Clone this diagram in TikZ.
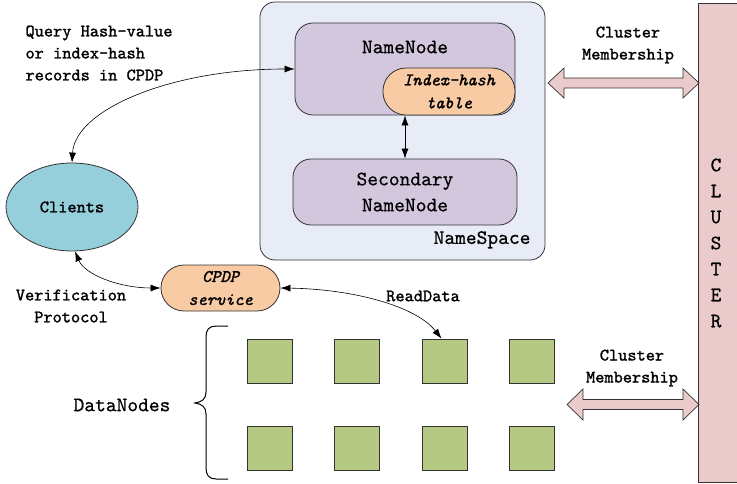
\documentclass[tikz,border=0pt]{standalone}
\usepackage{fontspec}
\newfontfamily\heavytt{lmmono10-regular.otf}[FakeBold=1.4, ItalicFont=lmmono10-italic.otf, ItalicFeatures={FakeBold=1.4}]
\newfontfamily\midtt{lmmono10-regular.otf}[FakeBold=0.6]
\usetikzlibrary{arrows.meta,shapes.geometric}
\definecolor{nsfill}{HTML}{E8ECF7}
\definecolor{nnfill}{HTML}{D3C7DD}
\definecolor{peach}{HTML}{F9CBA4}
\definecolor{clfill}{HTML}{96CFDC}
\definecolor{green}{HTML}{B5C985}
\definecolor{pink}{HTML}{EACACA}
\definecolor{edge}{HTML}{333333}
\tikzset{
  big/.style={font=\fontsize{20.5}{26}\selectfont\midtt},
  small/.style={font=\fontsize{17.5}{22}\selectfont\heavytt},
  ital/.style={font=\fontsize{17.5}{23}\selectfont\heavytt\itshape},
  rbox/.style={draw=edge, line width=0.8pt, rectangle, inner sep=0pt},
  dn/.style={rbox, fill=green, minimum width=45, minimum height=44},
  arr/.style={{Latex[length=10pt,width=7pt]}-{Latex[length=10pt,width=7pt]}, line width=0.6pt, black},
  fat/.style={draw=edge, fill=pink, line width=0.7pt, line join=miter},
}
\begin{document}
\begin{tikzpicture}[x=1pt,y=-1pt]
\useasboundingbox (0,0) rectangle (737,484);
% CLUSTER bar
\begin{scope}
\clip (0,0) rectangle (737,484);
\node[rbox, fill=pink, minimum width=42, minimum height=479, anchor=north west] (cluster) at (698,3) {};
\end{scope}
\node[big, align=center] (clustertext) at (716,243) {C\\L\\U\\S\\T\\E\\R};
% NameSpace
\node[rbox, fill=nsfill, rounded corners=15, minimum width=285, minimum height=258] (ns) at (402.5,131) {};
\node[big, anchor=south east] (nslabel) at (534,252) {NameSpace};
\node[rbox, fill=nnfill, rounded corners=18, minimum width=220, minimum height=92] (nn) at (405,69) {};
\node[big] (nnlabel) at (405,47) {NameNode};
\node[rbox, fill=peach, rounded corners=23, minimum width=132, minimum height=47, ital, align=center] (ih) at (449,91.5) {Index-hash\\table};
\node[rbox, fill=nnfill, rounded corners=18, minimum width=224, minimum height=66, big, align=center] (sn) at (405,192) {Secondary\\NameNode};
\draw[arr] (nn.south) -- (sn.north);
% Clients
\node[ellipse, draw=edge, line width=0.8pt, fill=clfill, minimum width=132, minimum height=88, inner sep=0pt, small] (cl) at (72,207) {Clients};
% CPDP service
\node[rbox, fill=peach, rounded corners=23, minimum width=119, minimum height=46, ital, align=center] (cpdp) at (220.5,288) {CPDP\\service};
% Labels
\node[small, align=left, anchor=north west] (q) at (22,22) {Query Hash-value\\or index-hash\\records in CPDP};
\node[small, align=center] (vp) at (71,306) {Verification\\Protocol};
\node[small] (rd) at (423,296) {ReadData};
% DataNodes
\node[dn] (d11) at (269.5,361) {};
\node[dn] (d12) at (356.5,361) {};
\node[dn] (d13) at (444.5,361) {};
\node[dn] (d14) at (532,361) {};
\node[dn] (d21) at (269.5,448.5) {};
\node[dn] (d22) at (356.5,448.5) {};
\node[dn] (d23) at (444.5,448.5) {};
\node[dn] (d24) at (532,448.5) {};
\node[big] (dnl) at (122,405) {DataNodes};
\draw[line width=1pt, black] (228,326) -- (216,326) .. controls (209,326) and (206,330) .. (206,337)
  -- (206,392) .. controls (206,399) and (202,402) .. (195,403)
  .. controls (202,404) and (206,407) .. (206,414)
  -- (206,468) .. controls (206,475) and (209,479) .. (216,479) -- (228,479);
% connectors
\draw[arr] (cl.north) .. controls (75,110) and (170,69) .. (nn.west);
\coordinate (cls) at ([xshift=3pt]cl.south);
\draw[arr] (cls) .. controls (85,275) and (120,288) .. (cpdp.west);
\draw[arr] (cpdp.east) .. controls (350,289) and (415,305) .. ([xshift=-3pt]d13.north);
% Fat arrows
\draw[fat] (548,83) -- (564,68) -- (564,78) -- (683,78) -- (683,68) -- (699,83) -- (683,98) -- (683,88) -- (564,88) -- (564,98) -- cycle;
\node[small, align=center] (cm1) at (628,45) {Cluster\\Membership};
\draw[fat] (567,404.5) -- (583,389) -- (583,399.5) -- (683,399.5) -- (683,389) -- (699,404.5) -- (683,420) -- (683,409.5) -- (583,409.5) -- (583,420) -- cycle;
\node[small, align=center] (cm2) at (632,368) {Cluster\\Membership};
\end{tikzpicture}
\end{document}
